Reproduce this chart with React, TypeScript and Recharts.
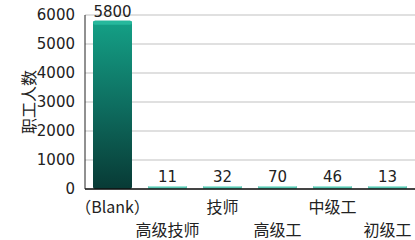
import React from 'react';
import { BarChart, Bar, XAxis, YAxis, CartesianGrid, LabelList, Label } from 'recharts';

const categories = ['（Blank）', '高级技师', '技师', '高级工', '中级工', '初级工'];
const workers = [5800, 11, 32, 70, 46, 13];
const yTicks = [0, 1000, 2000, 3000, 4000, 5000, 6000];

const data = categories.map((name, i) => ({ name, value: workers[i] }));

const FONT = '"DejaVu Sans", "Noto Sans CJK SC", sans-serif';
const CJK = '"Noto Sans CJK SC", "DejaVu Sans", sans-serif';

const AltTick = (props: any) => {
  const { x, y, payload, index } = props;
  const dy = index % 2 === 0 ? 16 : 39;
  return (
    <text x={x} y={y + dy} textAnchor="middle" fill="#222" fontSize={16} fontFamily={CJK}>
      {payload.value}
    </text>
  );
};

const YTitle = (props: any) => {
  const { viewBox } = props;
  const cx = 28;
  const cy = viewBox.y + viewBox.height / 2;
  return (
    <text
      x={cx}
      y={cy}
      transform={`rotate(-90 ${cx} ${cy})`}
      textAnchor="middle"
      dominantBaseline="central"
      fill="#222"
      fontSize={16}
      fontFamily={CJK}
    >
      职工人数
    </text>
  );
};

const BarShape = (props: any) => {
  const { x, y, width, height } = props;
  if (height < 12) {
    return (
      <g>
        <rect x={x} y={y} width={width} height={height} fill="#5cc8b3" rx={1} />
        <rect x={x + 1} y={y} width={width - 2} height={1} fill="#9fe3d6" />
      </g>
    );
  }
  return (
    <g>
      <rect x={x} y={y} width={width} height={height} fill="url(#barGrad)" rx={2} />
      <rect x={x} y={y} width={width} height={4} fill="#26b89c" rx={2} />
    </g>
  );
};

export default function App() {
  return (
    <div style={{ position: 'absolute', left: 0, top: 0, background: '#fff' }}>
      <BarChart
        width={415}
        height={240}
        data={data}
        margin={{ top: 15, right: 0, bottom: 0, left: 0 }}
        barCategoryGap={8}
      >
        <defs>
          <linearGradient id="barGrad" x1="0" y1="0" x2="0" y2="1">
            <stop offset="0%" stopColor="#14a086" />
            <stop offset="50%" stopColor="#0e6e60" />
            <stop offset="100%" stopColor="#083a35" />
          </linearGradient>
        </defs>
        <CartesianGrid vertical={false} stroke="#d6d6d6" strokeWidth={1.5} />
        <XAxis
          dataKey="name"
          interval={0}
          tickLine={false}
          axisLine={{ stroke: '#111', strokeWidth: 1.5 }}
          tick={<AltTick />}
          height={51}
        />
        <YAxis
          domain={[0, 6000]}
          ticks={yTicks}
          interval={0}
          width={85}
          tickLine={false}
          axisLine={{ stroke: '#222' }}
          tickSize={8}
          tickMargin={2}
          tick={{ fill: '#222', fontSize: 15, fontFamily: FONT }}
        >
          <Label content={<YTitle />} />
        </YAxis>
        <Bar dataKey="value" shape={<BarShape />} minPointSize={3} isAnimationActive={false}>
          <LabelList
            dataKey="value"
            position="top"
            offset={4}
            fill="#222"
            fontSize={15}
            fontFamily={FONT}
          />
        </Bar>
      </BarChart>
    </div>
  );
}
